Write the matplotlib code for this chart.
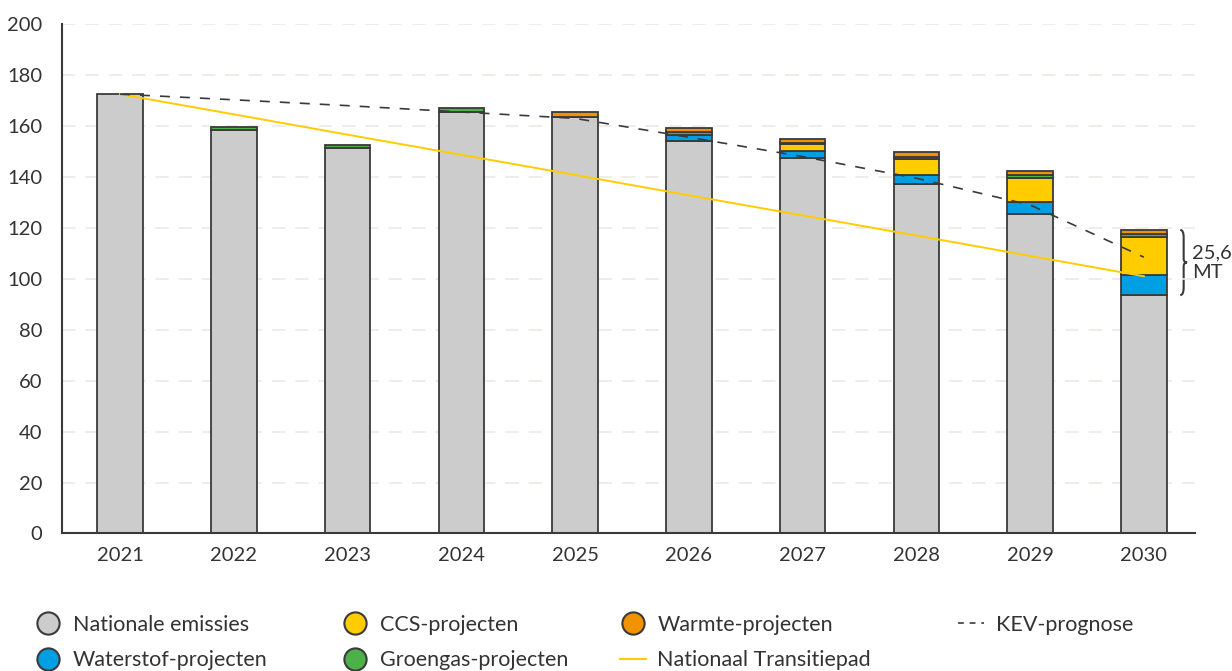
import numpy as np
import matplotlib.pyplot as plt
from matplotlib.path import Path
from matplotlib.patches import PathPatch
from matplotlib.lines import Line2D

plt.rcParams["font.family"] = ["Lato", "DejaVu Sans"]

years = ["2021", "2022", "2023", "2024", "2025", "2026", "2027", "2028", "2029", "2030"]
nationaal = [172.5, 158.5, 151.3, 165.5, 163.5, 154.1, 147.3, 137.1, 125.3, 93.6]
waterstof = [0, 0, 0, 0, 0, 2.5, 2.9, 3.6, 5.0, 8.0]
ccs = [0, 0, 0, 0, 0, 0, 2.6, 6.2, 9.4, 14.8]
groengas = [0, 1.2, 1.2, 1.5, 0, 1.0, 0.5, 1.0, 1.0, 1.0]
warmte = [0, 0, 0, 0, 2.0, 1.8, 1.5, 1.7, 1.6, 1.8]
kev = [172.5, 170.3, 168.0, 165.5, 163.0, 155.6, 148.0, 139.5, 129.0, 108.5]
transitiepad = [172.5, 164.6, 156.6, 148.7, 140.8, 132.8, 124.9, 117.0, 109.0, 101.0]
reductie_label = "25,6\nMT"

GRAY = "#cccccc"
BLUE = "#009fe3"
YELLOW = "#ffcc00"
GREEN = "#4db14a"
ORANGE = "#f39200"
EDGE = "#3a3a3a"
TEXT = "#333333"

layers = [
    ("Nationale emissies", nationaal, GRAY),
    ("Waterstof-projecten", waterstof, BLUE),
    ("CCS-projecten", ccs, YELLOW),
    ("Groengas-projecten", groengas, GREEN),
    ("Warmte-projecten", warmte, ORANGE),
]

fig = plt.figure(figsize=(12.32, 6.71), dpi=100)
ax = fig.add_axes([0.0503, 0.205, 0.9197, 0.759])

x = np.arange(len(years))
bottom = np.zeros(len(years))
for name, vals, col in layers:
    vals = np.array(vals, dtype=float)
    keep = vals > 0
    ax.bar(x[keep], vals[keep], bottom=bottom[keep], width=0.4, color=col,
           edgecolor=EDGE, linewidth=1.3, zorder=2)
    bottom += vals

ax.plot(x, transitiepad, color=YELLOW, linewidth=1.4, zorder=3)
ax.plot(x, kev, color=EDGE, linewidth=1.2, dashes=(6, 6), zorder=4)

# brace next to the 2030 bar spanning the project reductions
y0 = nationaal[-1]
y1 = bottom[-1]
ym = (y0 + y1) / 2
bx, w = x[-1] + 0.32, 0.03
verts = [(bx, y1), (bx + w, y1), (bx + w, y1 - 3),
         (bx + w, ym + 1.5),
         (bx + w, ym), (bx + 2 * w, ym),
         (bx + w, ym), (bx + w, ym - 1.5),
         (bx + w, y0 + 3), (bx + w, y0), (bx, y0)]
codes = [Path.MOVETO, Path.CURVE3, Path.CURVE3,
         Path.LINETO,
         Path.CURVE3, Path.CURVE3,
         Path.CURVE3, Path.CURVE3,
         Path.LINETO, Path.CURVE3, Path.CURVE3]
ax.add_patch(PathPatch(Path(verts, codes), fill=False, edgecolor=EDGE,
                       linewidth=1.5, clip_on=False))
ax.text(bx + 0.105, ym, reductie_label, ha="left", va="center", fontsize=14.5,
        color=TEXT, linespacing=1.15, clip_on=False)

ax.set_xlim(-0.51, 9.45)
ax.set_ylim(0, 200)
ax.set_yticks(np.arange(0, 201, 20))
ax.set_xticks(x)
ax.set_xticklabels(years)
ax.tick_params(length=0, labelsize=14.5, colors=TEXT)
ax.tick_params(axis="y", pad=14)
ax.tick_params(axis="x", pad=10)
ax.grid(axis="y", color="#ede9e6", linewidth=1.2, dashes=(8, 6), zorder=0)
for s in ["top", "right"]:
    ax.spines[s].set_visible(False)
for s in ["left", "bottom"]:
    ax.spines[s].set_color(EDGE)
    ax.spines[s].set_linewidth(1.5)

def dot(col):
    return Line2D([], [], marker="o", linestyle="none", markersize=16,
                  markerfacecolor=col, markeredgecolor=EDGE, markeredgewidth=1.5)

columns = [
    (0.0284, [(dot(GRAY), "Nationale emissies"), (dot(BLUE), "Waterstof-projecten")]),
    (0.2776, [(dot(YELLOW), "CCS-projecten"), (dot(GREEN), "Groengas-projecten")]),
    (0.503, [(dot(ORANGE), "Warmte-projecten"),
             (Line2D([], [], color=YELLOW, linewidth=1.5), "Nationaal Transitiepad")]),
    (0.778, [(Line2D([], [], color=EDGE, linewidth=1.2, dashes=(3.5, 3.5)), "KEV-prognose")]),
]
for xpos, entries in columns:
    leg = fig.legend([h for h, _ in entries], [t for _, t in entries],
                     loc="upper left", bbox_to_anchor=(xpos, 0.084), frameon=False,
                     fontsize=15.5, handlelength=1.2, handletextpad=0.55,
                     labelspacing=0.72, borderaxespad=0, borderpad=0)
    for t in leg.get_texts():
        t.set_color(TEXT)

fig.savefig("out.png", dpi=100)
